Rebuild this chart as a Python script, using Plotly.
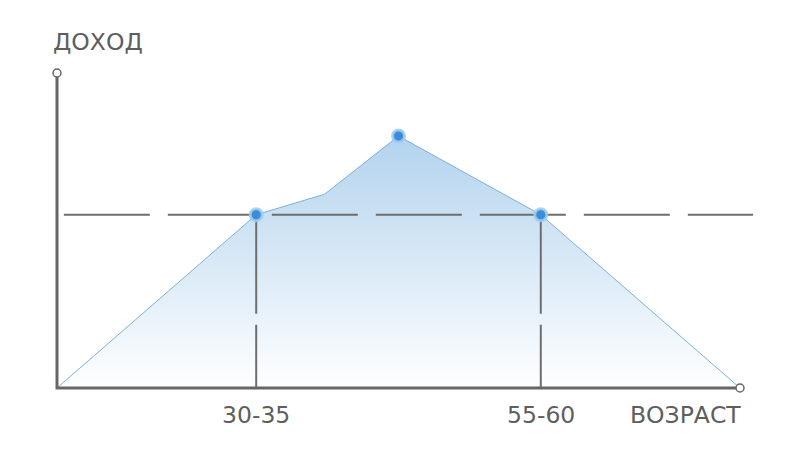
import plotly.graph_objects as go

# age (years) and income (relative units)
age = [15, 32.5, 38.5, 45, 57.5, 75]
income = [0, 55, 61.5, 80, 55, 0]
marked = [1, 3, 4]  # points drawn with a dot
tick_age = [32.5, 57.5]
tick_text = ['30-35', '55-60']
y_top = 100

grey = '#666666'
font = dict(family='DejaVu Sans', size=23.5, color='#5e5e5e')

fig = go.Figure()

# area under the income curve
fig.add_trace(go.Scatter(
    x=age, y=income, mode='lines', fill='tozeroy',
    line=dict(color='#7cb0d6', width=1),
    fillgradient=dict(type='vertical',
                      colorscale=[[0, '#ffffff'], [1, '#b2d3ee']]),
    hoverinfo='skip'))

# dashed level line through the 30-35 point
fig.add_trace(go.Scatter(
    x=[age[0] + 0.6, age[-1] + 1.15], y=[income[1], income[1]], mode='lines',
    line=dict(color='#6e6e6e', width=2, dash='86px,18px'), hoverinfo='skip'))

# vertical drops to the age axis
for i in [1, 4]:
    fig.add_trace(go.Scatter(
        x=[age[i], age[i]], y=[income[i], 0], mode='lines',
        line=dict(color='#6e6e6e', width=2, dash='99px,11px'), hoverinfo='skip'))

# axes
fig.add_trace(go.Scatter(
    x=[age[0], age[0], age[-1]], y=[y_top, 0, 0], mode='lines',
    line=dict(color=grey, width=3), hoverinfo='skip'))
fig.add_trace(go.Scatter(
    x=[age[0], age[-1]], y=[y_top, 0], mode='markers',
    marker=dict(size=8, color='white', line=dict(color=grey, width=1.5)),
    hoverinfo='skip'))

# dots
fig.add_trace(go.Scatter(
    x=[age[i] for i in marked], y=[income[i] for i in marked], mode='markers',
    marker=dict(size=12, color='#3a8dd6',
                line=dict(color='rgba(160,205,240,0.85)', width=3)),
    hoverinfo='skip'))

for xv, t in zip(tick_age, tick_text):
    fig.add_annotation(x=xv, y=0, text=t, showarrow=False, yshift=-27,
                       font=font)
fig.add_annotation(x=age[-1], y=0, text='ВОЗРАСТ', showarrow=False,
                   xanchor='right', xshift=3, yshift=-27, font=font)
fig.add_annotation(x=age[0], y=y_top, text='ДОХОД', showarrow=False,
                   xanchor='left', xshift=-6, yshift=31, font=font)

# ranges shifted to offset the 8px page margin
fig.update_layout(
    width=800, height=450, showlegend=False,
    margin=dict(l=0, r=0, t=0, b=0),
    paper_bgcolor='white', plot_bgcolor='white',
    xaxis=dict(range=[10.695, 80.975], visible=False),
    yaxis=dict(range=[-22.22, 120.63], visible=False),
)

fig.write_html("out.html")
